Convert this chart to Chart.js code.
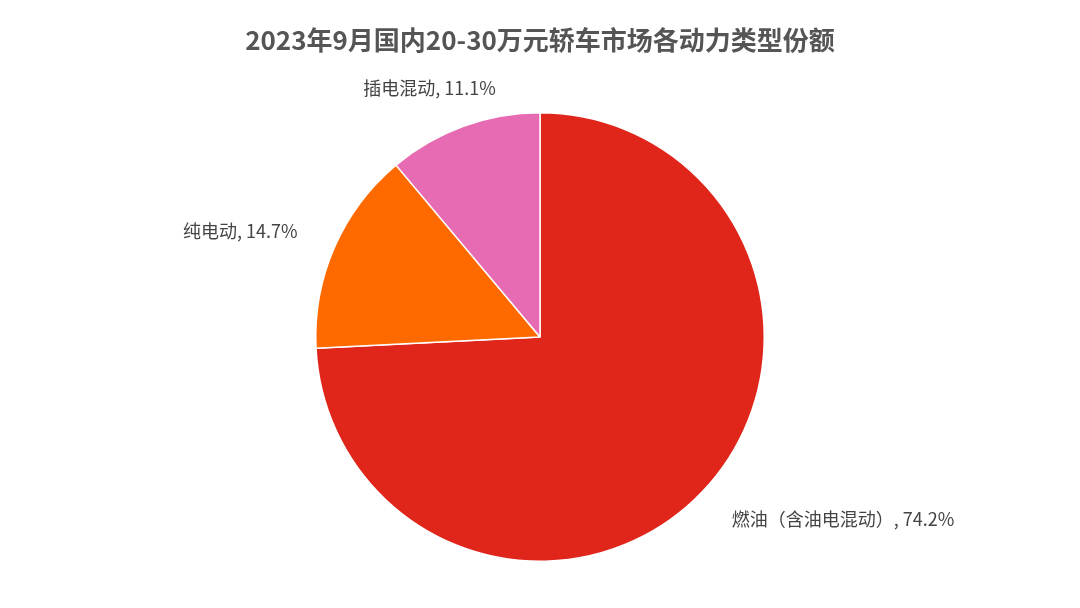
<!DOCTYPE html>
<html><head><meta charset="utf-8">
<script src="https://cdn.jsdelivr.net/npm/chart.js@4"></script>
<style>body{margin:0;background:#fff}#w{width:1080px;height:608px}</style></head>
<body><div id="w"><canvas id="c"></canvas></div>
<script>
const categories=['燃油（含油电混动）','纯电动','插电混动'];
const shares=[74.2,14.7,11.1];
const colors=['#E0251B','#FF6A00','#E76BB2'];
const titleText='2023年9月国内20-30万元轿车市场各动力类型份额';
const font='"Noto Sans CJK SC","Noto Sans",sans-serif';
const labelPlugin={id:'lbl',afterDraw(ch){
  const c=ch.ctx;c.save();
  c.fillStyle='#555';c.font='bold 26px '+font;c.textAlign='center';c.textBaseline='middle';
  c.fillText(titleText,540,40);
  c.font='18px '+font;c.fillStyle='#444';
  ch.getDatasetMeta(0).data.forEach((a,i)=>{
    const m=(a.startAngle+a.endAngle)/2,r=a.outerRadius*1.18;
    const x=a.x+Math.cos(m)*r,y=a.y+Math.sin(m)*r;
    const dx=x-a.x;
    c.textAlign=Math.abs(dx)<a.outerRadius*0.7?'center':(dx<0?'right':'left');
    c.fillText(categories[i]+', '+shares[i].toFixed(1)+'%',x-(c.textAlign==='center'?20:0),y);
  });
  c.restore();}};
new Chart(document.getElementById('c'),{type:'pie',
 data:{labels:categories,datasets:[{data:shares,backgroundColor:colors,borderColor:'#fff',borderWidth:1.5}]},
 options:{responsive:true,maintainAspectRatio:false,animation:false,
  layout:{padding:{top:112,bottom:46}},
  plugins:{legend:{display:false},tooltip:{enabled:false}}},
 plugins:[labelPlugin]});
</script></body></html>
